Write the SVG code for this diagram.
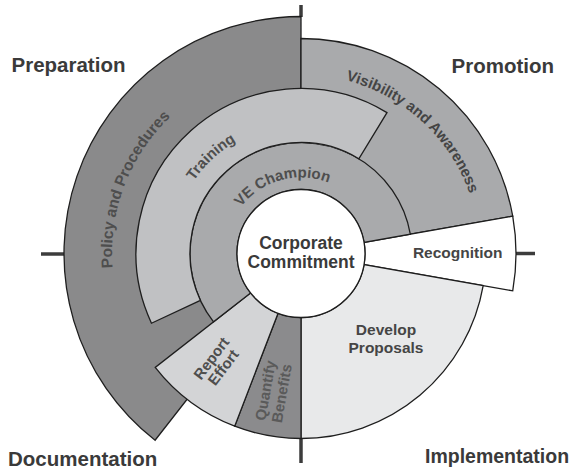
<svg xmlns="http://www.w3.org/2000/svg" width="581" height="472" viewBox="0 0 581 472">
<style>
.seg{stroke:#1e1e1e;stroke-width:1.3;stroke-linejoin:miter}
.tick{stroke:#3c3c3c;stroke-width:3.5;fill:none}
.q{font-family:"Liberation Sans",Arial,sans-serif;font-weight:bold;font-size:20.5px;fill:#3a3a3a}
.lbl{font-family:"Liberation Sans",Arial,sans-serif;font-weight:bold;font-size:15.5px;fill:#454545;text-anchor:middle}
.arc{font-family:"Liberation Sans",Arial,sans-serif;font-weight:bold;font-size:15px;fill:#4e4e4e;text-anchor:middle}
.ctr{font-family:"Liberation Sans",Arial,sans-serif;font-weight:bold;font-size:17.5px;fill:#3a3a3a;text-anchor:middle}
</style>
<defs>
<path id="pVE" d="M 227.42 234.47 A 76 76 0 0 1 354.27 199.29"/>
<path id="pTr" d="M 171.97 237.66 A 132 132 0 0 1 294.2 123.68"/>
<path id="pPo" d="M 123.4 318.14 A 189 189 0 0 1 212.27 86.62"/>
<path id="pVi" d="M 269.92 77.22 A 179 179 0 0 1 479.32 269.1"/>
</defs>
<g id="ticks">
<line class="tick" x1="301" y1="5" x2="301" y2="17"/>
<line class="tick" x1="41" y1="254" x2="66" y2="254"/>
<line class="tick" x1="515" y1="253.5" x2="535" y2="253.5"/>
<line class="tick" x1="301" y1="438" x2="301" y2="463"/>
</g>
<g id="policy"><path class="seg" fill="#8a8a8b" d="M 301 253.5 L 155.09 440.26 A 237 237 0 0 1 301 16.5 Z"/></g>
<g id="visibility"><path class="seg" fill="#a9aaac" d="M 301 253.5 L 301 38.5 A 215 215 0 0 1 512.73 216.17 Z"/></g>
<g id="recognition"><path class="seg" fill="#ffffff" d="M 512.73 216.17 A 215 215 0 0 1 512.73 290.83 L 364.03 264.61 A 64 64 0 0 0 364.03 242.39 Z"/></g>
<g id="develop"><path class="seg" fill="#e8e9ea" d="M 483.19 285.62 A 185 185 0 0 1 301 438.5 L 301 317.5 A 64 64 0 0 0 364.03 264.61 Z"/></g>
<g id="quantify"><path class="seg" fill="#8b8b8d" d="M 301 438.5 A 185 185 0 0 1 234.7 426.21 L 278.06 313.25 A 64 64 0 0 0 301 317.5 Z"/></g>
<g id="report"><path class="seg" fill="#d3d4d6" d="M 234.7 426.21 A 185 185 0 0 1 155.22 367.4 L 250.57 292.9 A 64 64 0 0 0 278.06 313.25 Z"/></g>
<g id="champion"><path class="seg" fill="#a9aaac" d="M 213.53 321.84 A 111 111 0 1 1 410.31 234.22 L 364.03 242.39 A 64 64 0 1 0 250.57 292.9 Z"/></g>
<g id="training"><path class="seg" fill="#c0c1c3" d="M 151.46 323.23 A 165 165 0 0 1 386.97 112.66 L 358.83 158.76 A 111 111 0 0 0 200.4 300.41 Z"/></g>
<g id="commitment">
<circle class="seg" cx="301" cy="253.5" r="64" fill="#ffffff"/>
<text class="ctr" x="301" y="249.3">Corporate</text>
<text class="ctr" x="301" y="268.3">Commitment</text>
</g>
<g id="labels">
<text class="arc"><textPath href="#pVE" startOffset="50%">VE Champion</textPath></text>
<text class="arc"><textPath href="#pTr" startOffset="50%">Training</textPath></text>
<text class="arc" style="font-size:15.5px"><textPath href="#pPo" startOffset="50%">Policy and Procedures</textPath></text>
<text class="arc" style="fill:#444"><textPath href="#pVi" startOffset="50%">Visibility and Awareness</textPath></text>
<text class="lbl" x="457.7" y="258.3">Recognition</text>
<text class="lbl" x="386" y="335">Develop</text>
<text class="lbl" x="386" y="353.3">Proposals</text>
<g transform="translate(217.5,363) rotate(-53)">
<text class="arc" x="0" y="-2.6">Report</text>
<text class="arc" x="0" y="12.4">Effort</text>
</g>
<g transform="translate(274,392) rotate(-80)">
<text class="arc" style="fill:#5a5a5a" x="0" y="-3.5">Quantify</text>
<text class="arc" style="fill:#5a5a5a" x="0" y="13">Benefits</text>
</g>
<text class="q" x="11.5" y="72">Preparation</text>
<text class="q" x="451.5" y="73">Promotion</text>
<text class="q" x="8" y="466">Documentation</text>
<text class="q" x="425" y="463" style="font-size:19.5px">Implementation</text>
</g>
</svg>
